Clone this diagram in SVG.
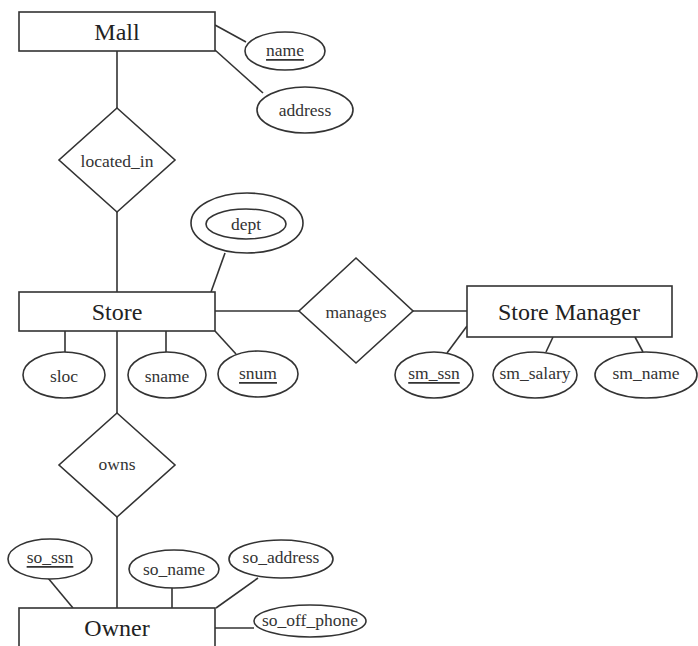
<svg xmlns="http://www.w3.org/2000/svg" width="698" height="646" viewBox="0 0 698 646">
  <style>
    .shape { fill: #ffffff; stroke: #333333; stroke-width: 1.6; }
    .edge { stroke: #333333; stroke-width: 1.6; fill: none; }
    .ent { font-family: "Liberation Serif", "Times New Roman", serif; font-size: 24px; fill: #222222; text-anchor: middle; dominant-baseline: central; }
    .att { font-family: "Liberation Serif", "Times New Roman", serif; font-size: 17.5px; fill: #333333; text-anchor: middle; dominant-baseline: central; }
    .key { text-decoration: underline; }
  </style>
  <rect width="698" height="646" fill="#ffffff"/>

  <g id="connectors">
    <!-- Mall -->
    <line class="edge" x1="215" y1="25" x2="246" y2="42"/>
    <line class="edge" x1="215" y1="50" x2="263" y2="93"/>
    <line class="edge" x1="117" y1="51" x2="117" y2="108"/>
    <!-- Store -->
    <line class="edge" x1="117" y1="212" x2="117" y2="292"/>
    <line class="edge" x1="225" y1="253" x2="211" y2="292"/>
    <line class="edge" x1="65" y1="331" x2="65" y2="352"/>
    <line class="edge" x1="166" y1="331" x2="166" y2="352"/>
    <line class="edge" x1="215" y1="331" x2="236" y2="354"/>
    <line class="edge" x1="215" y1="311" x2="299" y2="311"/>
    <line class="edge" x1="413" y1="311" x2="467" y2="311"/>
    <line class="edge" x1="117" y1="331" x2="117" y2="413"/>
    <!-- Store Manager -->
    <line class="edge" x1="467" y1="326" x2="447" y2="353"/>
    <line class="edge" x1="553" y1="337" x2="546" y2="352"/>
    <line class="edge" x1="635" y1="337" x2="643" y2="352"/>
    <!-- Owner -->
    <line class="edge" x1="117" y1="517" x2="117" y2="608"/>
    <line class="edge" x1="48" y1="578" x2="73" y2="608"/>
    <line class="edge" x1="172" y1="588" x2="172" y2="608"/>
    <line class="edge" x1="258" y1="578" x2="216" y2="608"/>
    <line class="edge" x1="215" y1="628" x2="254" y2="628"/>
  </g>

  <g id="mall">
    <rect class="shape" x="19" y="12" width="196" height="39"/>
    <text class="ent" x="117" y="32">Mall</text>
  </g>
  <g id="mall-name">
    <ellipse class="shape" cx="285" cy="51" rx="40" ry="19"/>
    <text class="att key" x="285" y="50">name</text>
  </g>
  <g id="mall-address">
    <ellipse class="shape" cx="305" cy="110" rx="48" ry="23"/>
    <text class="att" x="305" y="110">address</text>
  </g>

  <g id="located_in">
    <polygon class="shape" points="117,108 175,160 117,212 59,160"/>
    <text class="att" x="117" y="161">located_in</text>
  </g>

  <g id="store">
    <rect class="shape" x="19" y="292" width="196" height="39"/>
    <text class="ent" x="117" y="312">Store</text>
  </g>
  <g id="store-dept">
    <ellipse class="shape" cx="247" cy="223" rx="56" ry="30"/>
    <ellipse class="shape" cx="246" cy="224" rx="40" ry="15"/>
    <text class="att" x="246" y="224">dept</text>
  </g>
  <g id="store-sloc">
    <ellipse class="shape" cx="64" cy="375" rx="41" ry="23"/>
    <text class="att" x="64" y="376">sloc</text>
  </g>
  <g id="store-sname">
    <ellipse class="shape" cx="167" cy="375" rx="39" ry="23"/>
    <text class="att" x="167" y="376">sname</text>
  </g>
  <g id="store-snum">
    <ellipse class="shape" cx="258" cy="374" rx="40" ry="23"/>
    <text class="att key" x="258" y="373">snum</text>
  </g>

  <g id="manages">
    <polygon class="shape" points="356,258 413,311 356,363 299,311"/>
    <text class="att" x="356" y="312">manages</text>
  </g>

  <g id="store-manager">
    <rect class="shape" x="467" y="286" width="205" height="51"/>
    <text class="ent" x="569" y="312">Store Manager</text>
  </g>
  <g id="sm-ssn">
    <ellipse class="shape" cx="434" cy="375" rx="39" ry="23"/>
    <text class="att key" x="434" y="373">sm_ssn</text>
  </g>
  <g id="sm-salary">
    <ellipse class="shape" cx="535" cy="375" rx="42" ry="23"/>
    <text class="att" x="535" y="373">sm_salary</text>
  </g>
  <g id="sm-name">
    <ellipse class="shape" cx="646" cy="375" rx="51" ry="23"/>
    <text class="att" x="646" y="373">sm_name</text>
  </g>

  <g id="owns">
    <polygon class="shape" points="117,413 175,465 117,517 59,465"/>
    <text class="att" x="117" y="464">owns</text>
  </g>

  <g id="owner">
    <rect class="shape" x="19" y="608" width="196" height="40"/>
    <text class="ent" x="117" y="628">Owner</text>
  </g>
  <g id="so-ssn">
    <ellipse class="shape" cx="50" cy="559" rx="42" ry="20"/>
    <text class="att key" x="50" y="557">so_ssn</text>
  </g>
  <g id="so-name">
    <ellipse class="shape" cx="174" cy="569" rx="45" ry="19"/>
    <text class="att" x="174" y="569">so_name</text>
  </g>
  <g id="so-address">
    <ellipse class="shape" cx="281" cy="559" rx="52" ry="19"/>
    <text class="att" x="281" y="557">so_address</text>
  </g>
  <g id="so-off-phone">
    <ellipse class="shape" cx="310" cy="621" rx="56" ry="16"/>
    <text class="att" x="310" y="620">so_off_phone</text>
  </g>
</svg>
